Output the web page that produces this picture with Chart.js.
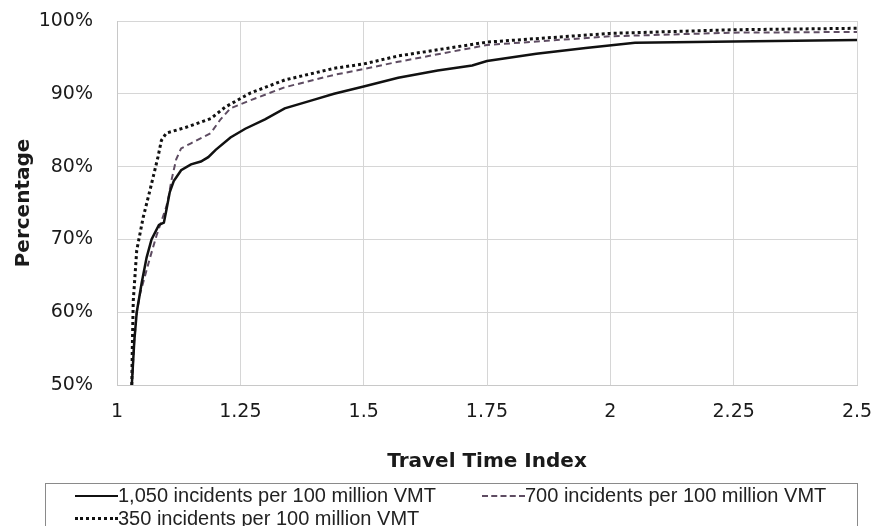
<!DOCTYPE html>
<html>
<head>
<meta charset="utf-8">
<script src="https://cdn.jsdelivr.net/npm/chart.js@4"></script>
<style>
  body { margin: 0; background: #fff; }
  #wrap { position: relative; width: 877px; height: 526px; overflow: hidden; }
  #legend {
    position: absolute; left: 45px; top: 483px; width: 811px; height: 60px;
    border: 1px solid #8a8a8a; font-family: "Liberation Sans", Arial, sans-serif;
    font-size: 20px; color: #222;
  }
  .item { position: absolute; display: flex; align-items: center; white-space: nowrap; }
  .sample { width: 43px; height: 0; margin-right: 0; }
</style>
</head>
<body>
<div id="wrap">
  <canvas id="chart" width="877" height="526"></canvas>
  <div id="legend"></div>
</div>
<script>
// series labels
const seriesNames = [
  '1,050 incidents per 100 million VMT',
  '700 incidents per 100 million VMT',
  '350 incidents per 100 million VMT'
];

// travel time index (x) and cumulative percentage (y)
const highX = [1.03, 1.035, 1.04, 1.05, 1.06, 1.07, 1.085, 1.095, 1.1, 1.107, 1.115, 1.13, 1.15, 1.17, 1.185, 1.2, 1.23, 1.26, 1.3, 1.34, 1.4, 1.44, 1.5, 1.57, 1.65, 1.72, 1.75, 1.85, 1.95, 2.05, 2.25, 2.5];
const highY = [50, 56, 60, 64, 67.5, 70, 72, 72.3, 74, 76.5, 78, 79.5, 80.3, 80.7, 81.3, 82.3, 84, 85.2, 86.5, 88, 89.2, 90, 91, 92.2, 93.2, 93.9, 94.5, 95.5, 96.3, 97, 97.2, 97.4];

const midX = [1.03, 1.035, 1.04, 1.047, 1.067, 1.08, 1.09, 1.1, 1.105, 1.11, 1.12, 1.13, 1.15, 1.19, 1.21, 1.23, 1.27, 1.34, 1.44, 1.5, 1.57, 1.75, 2.0, 2.25, 2.5];
const midY = [50, 56, 60, 62.6, 67.5, 70.5, 72.5, 74.5, 76, 78, 81, 82.5, 83.2, 84.6, 86.5, 88, 89.1, 90.9, 92.6, 93.4, 94.4, 96.7, 97.9, 98.4, 98.5];

const lowX = [1.03, 1.031, 1.033, 1.04, 1.053, 1.067, 1.083, 1.09, 1.1, 1.14, 1.19, 1.22, 1.27, 1.34, 1.44, 1.5, 1.57, 1.75, 2.0, 2.25, 2.5];
const lowY = [50, 55, 61.6, 68.5, 73, 76.8, 81.3, 83.6, 84.6, 85.4, 86.6, 88.2, 90.1, 91.9, 93.5, 94.1, 95.2, 97.1, 98.3, 98.8, 99.0];

const toPoints = (xs, ys) => xs.map((x, i) => ({ x: x, y: ys[i] }));

const styles = [
  { color: '#111111', width: 2.5, dash: [] },
  { color: '#5e4c62', width: 2, dash: [6, 4] },
  { color: '#111111', width: 3, dash: [3, 3] }
];

const data = {
  datasets: [
    { label: seriesNames[0], data: toPoints(highX, highY) },
    { label: seriesNames[1], data: toPoints(midX, midY) },
    { label: seriesNames[2], data: toPoints(lowX, lowY) }
  ].map((d, i) => Object.assign(d, {
    borderColor: styles[i].color,
    borderWidth: styles[i].width,
    borderDash: styles[i].dash,
    pointRadius: 0,
    tension: 0,
    fill: false
  }))
};

const tickFont = { family: 'DejaVu Sans', size: 19 };
const titleFont = { family: 'DejaVu Sans', size: 20, weight: 'bold' };

const config = {
  type: 'line',
  data: data,
  options: {
    responsive: false,
    animation: false,
    layout: { padding: { top: 21, right: 20, left: 8, bottom: 48 } },
    plugins: { legend: { display: false }, tooltip: { enabled: false } },
    scales: {
      x: {
        type: 'linear', min: 1, max: 2.5,
        ticks: { stepSize: 0.25, color: '#1a1a1a', font: tickFont, padding: 3,
                 callback: v => String(v) },
        // invisible tick marks only push the labels away from the axis
        grid: { color: '#d6d6d6', tickLength: 13, tickColor: 'rgba(0,0,0,0)' },
        border: { color: '#c8c8c8' },
        title: { display: true, text: 'Travel Time Index', color: '#1a1a1a', font: titleFont },
        afterFit: s => { s.height = 93; }
      },
      y: {
        min: 50, max: 100,
        ticks: { stepSize: 10, color: '#1a1a1a', font: tickFont, padding: 3,
                 callback: v => v + '%' },
        grid: { color: '#d6d6d6', tickLength: 21, tickColor: 'rgba(0,0,0,0)' },
        border: { color: '#c8c8c8' },
        title: { display: true, text: 'Percentage', color: '#1a1a1a', font: titleFont },
        afterFit: s => { s.width = 109; }
      }
    }
  }
};

const chart = new Chart(document.getElementById('chart'), config);

// legend box under the chart, two columns like the original
const legendPos = [
  { left: 29, top: 0 },
  { left: 436, top: 0 },
  { left: 29, top: 23 }
];
const legend = document.getElementById('legend');
seriesNames.forEach((name, i) => {
  const item = document.createElement('div');
  item.className = 'item';
  item.style.left = legendPos[i].left + 'px';
  item.style.top = legendPos[i].top + 'px';
  const sample = document.createElement('span');
  sample.className = 'sample';
  const kind = i === 0 ? 'solid' : (i === 1 ? 'dashed' : 'dotted');
  sample.style.borderTop = (i === 2 ? 3 : 2) + 'px ' + kind + ' ' + styles[i].color;
  const txt = document.createElement('span');
  txt.textContent = name;
  item.appendChild(sample);
  item.appendChild(txt);
  legend.appendChild(item);
});
</script>
</body>
</html>
